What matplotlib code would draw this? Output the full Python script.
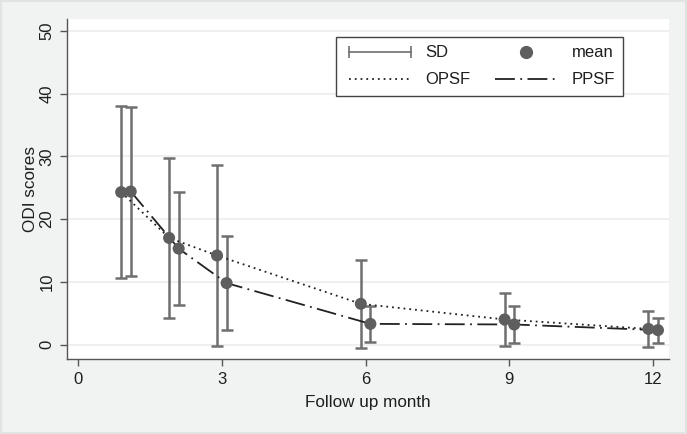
import matplotlib
matplotlib.use("Agg")
import matplotlib.pyplot as plt
from matplotlib.lines import Line2D
from matplotlib.patches import Rectangle
from matplotlib.legend_handler import HandlerLine2D

months = [1, 2, 3, 6, 9, 12]
opsf_mean = [24.3, 17.0, 14.2, 6.5, 4.0, 2.5]
opsf_sd = [13.7, 12.8, 14.4, 7.0, 4.2, 2.9]
ppsf_mean = [24.4, 15.3, 9.8, 3.3, 3.2, 2.3]
ppsf_sd = [13.5, 9.0, 7.5, 2.9, 3.0, 2.0]
xticks = [0, 3, 6, 9, 12]
yticks = [0, 10, 20, 30, 40, 50]
offset = 0.1

plt.rcParams['font.family'] = ['Liberation Sans', 'DejaVu Sans']

W, H = 687, 434
fig = plt.figure(figsize=(W / 100, H / 100), dpi=100, facecolor='#f1f3f3')
fig.patches.append(Rectangle((0, 0), 1, 1, transform=fig.transFigure,
                             facecolor='none', edgecolor='#e2e4e4', lw=3))
ax = fig.add_axes([67 / W, 1 - 359 / H, (669 - 67) / W, (359 - 19) / H])
ax.set_facecolor('white')

ax.set_xlim(-0.23, 12.33)
ax.set_ylim(-2.3, 51.9)

xo = [m - offset for m in months]
xp = [m + offset for m in months]

bar_c = '#6f6f6f'
mk_c = '#5e5e5e'
dotted = (0, (1, 2.2))
dashdot = (0, (11, 3, 1, 3))
for xs, ms, sds in ((xo, opsf_mean, opsf_sd), (xp, ppsf_mean, ppsf_sd)):
    ax.errorbar(xs, ms, yerr=sds, fmt='none', ecolor=bar_c, elinewidth=1.8,
                capsize=4, capthick=1.8, zorder=3)

ax.plot(xo, opsf_mean, color='#222222', lw=1.3, linestyle=dotted, zorder=4)
ax.plot(xp, ppsf_mean, color='#222222', lw=1.3, linestyle=dashdot, zorder=4)
ax.scatter(xo + xp, opsf_mean + ppsf_mean, s=75, color=mk_c, zorder=5,
           edgecolors='none')

ax.set_xticks(xticks)
ax.set_yticks(yticks)
ax.set_yticklabels([str(v) for v in yticks], rotation=90, va='center')
ax.tick_params(axis='both', colors='#555555', labelcolor='#1e1e1e',
               labelsize=12, length=5, width=1)
ax.tick_params(axis='y', pad=4)
ax.tick_params(axis='x', pad=4)
ax.grid(axis='y', color='#ececec', lw=1.2)
ax.set_axisbelow(True)
for s in ('top', 'right'):
    ax.spines[s].set_visible(False)
for s in ('left', 'bottom'):
    ax.spines[s].set_color('#555555')
    ax.spines[s].set_linewidth(1)

ax.set_xlabel('Follow up month', fontsize=12.3, color='#1e1e1e', labelpad=6)
ax.set_ylabel('ODI scores', fontsize=12.3, color='#1e1e1e', labelpad=1)

h_sd = Line2D([], [], color=bar_c, lw=1.2, marker='|', markersize=9,
              markeredgewidth=1.2)
h_mean = Line2D([], [], color=mk_c, lw=0, marker='o', markersize=8.5)
h_opsf = Line2D([], [], color='#222222', lw=1.3, linestyle=dotted)
h_ppsf = Line2D([], [], color='#222222', lw=1.3, linestyle=dashdot)

leg = ax.legend([h_sd, h_opsf, h_mean, h_ppsf], ['SD', 'OPSF', 'mean', 'PPSF'],
                ncol=2, loc='upper right', bbox_to_anchor=(0.924, 0.947),
                borderaxespad=0, fontsize=12, handlelength=4.3,
                handletextpad=0.6, columnspacing=1.15, labelspacing=0.72,
                numpoints=2,
                handler_map={h_mean: HandlerLine2D(numpoints=1)},
                frameon=True, fancybox=False, edgecolor='#444444',
                facecolor='white', framealpha=1, borderpad=0.5)
leg.get_frame().set_linewidth(1)
for t in leg.get_texts():
    t.set_color('#1e1e1e')

fig.savefig('out.png', dpi=100, facecolor=fig.get_facecolor())
